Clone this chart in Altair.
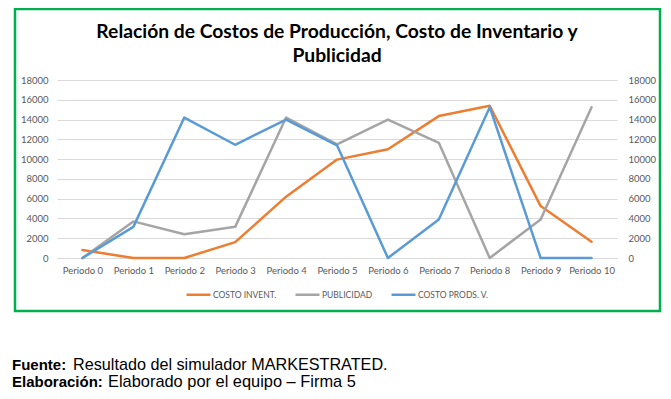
import altair as alt
import pandas as pd

periods = ["Periodo 0", "Periodo 1", "Periodo 2", "Periodo 3", "Periodo 4", "Periodo 5",
           "Periodo 6", "Periodo 7", "Periodo 8", "Periodo 9", "Periodo 10"]
costo_invent = [800, 0, 0, 1600, 6200, 9950, 11000, 14350, 15400, 5250, 1650]
publicidad = [0, 3700, 2400, 3150, 14200, 11500, 14000, 11650, 0, 3900, 15250]
costo_prods = [0, 3150, 14200, 11450, 14000, 11400, 0, 3900, 15250, 0, 0]
series_names = ["COSTO INVENT.", "PUBLICIDAD", "COSTO PRODS. V."]
series_colors = ["#ED7D31", "#A5A5A5", "#5B9BD5"]
y_ticks = list(range(0, 18001, 2000))

title_1 = "Relación de Costos de Producción, Costo de Inventario y"
title_2 = "Publicidad"
src_bold = "Fuente:"
src_text = "Resultado del simulador MARKESTRATED."
elab_bold = "Elaboración:"
elab_text = "Elaborado por el equipo – Firma 5"

rows = []
for name, vals in zip(series_names, [costo_invent, publicidad, costo_prods]):
    for p, v in zip(periods, vals):
        rows.append({"periodo": p, "valor": v, "serie": name})
df = pd.DataFrame(rows)

FONT = "Lato"
GRAY = "#595959"

x_enc = alt.X("periodo:N", sort=periods,
              scale=alt.Scale(type="point", padding=0.5),
              axis=alt.Axis(title=None, labelAngle=0, ticks=False, domain=True,
                            domainColor="#D9D9D9", domainWidth=1,
                            labelFont=FONT, labelFontSize=9.5, labelColor=GRAY,
                            labelPadding=7, grid=False))

lines = alt.Chart(df).mark_line(strokeWidth=2.5, strokeJoin="round", strokeCap="round").encode(
    x=x_enc,
    y=alt.Y("valor:Q", scale=alt.Scale(domain=[0, 18000], nice=False),
            axis=alt.Axis(title=None, values=y_ticks, ticks=False, domain=False, format="d",
                          labelFont=FONT, labelFontSize=9.5, labelColor=GRAY,
                          labelPadding=9, grid=True, gridColor="#D9D9D9", gridWidth=1)),
    color=alt.Color("serie:N",
                    scale=alt.Scale(domain=series_names, range=series_colors),
                    legend=alt.Legend(orient="none", legendX=128, legendY=201,
                                      direction="horizontal", title=None,
                                      symbolType="stroke", symbolStrokeWidth=2.5,
                                      symbolSize=576, labelFont=FONT, labelFontSize=8.5,
                                      labelColor=GRAY, labelOffset=1, columnPadding=13)),
    detail="serie:N",
)

right_axis = alt.Chart(df).mark_line(opacity=0).encode(
    x=x_enc,
    y=alt.Y("valor:Q", scale=alt.Scale(domain=[0, 18000], nice=False),
            axis=alt.Axis(title=None, orient="right", values=y_ticks, ticks=False, domain=False,
                          format="d", labelFont=FONT, labelFontSize=9.5, labelColor=GRAY,
                          labelPadding=11, grid=False)),
    detail="serie:N",
)

one = pd.DataFrame({"k": [0]})

border = alt.Chart(one).mark_rect(fill=None, stroke="#00B050", strokeWidth=2.5).encode(
    x=alt.value(-42), x2=alt.value(603), y=alt.value(-71), y2=alt.value(231))

t1 = alt.Chart(one).mark_text(font=FONT, fontSize=19.3, fontWeight="bold", color="black",
                              align="center", baseline="alphabetic").encode(
    x=alt.value(280), y=alt.value(-42), text=alt.value(title_1))
t2 = alt.Chart(one).mark_text(font=FONT, fontSize=19.3, fontWeight="bold", color="black",
                              align="center", baseline="alphabetic").encode(
    x=alt.value(280), y=alt.value(-18), text=alt.value(title_2))

FOOT = "Liberation Sans"
f1b = alt.Chart(one).mark_text(font=FOOT, fontSize=15, fontWeight="bold", color="black",
                               align="left", baseline="alphabetic").encode(
    x=alt.value(-45), y=alt.value(290), text=alt.value(src_bold))
f1n = alt.Chart(one).mark_text(font=FOOT, fontSize=16.2, color="black",
                               align="left", baseline="alphabetic").encode(
    x=alt.value(16), y=alt.value(290), text=alt.value(src_text))
f2b = alt.Chart(one).mark_text(font=FOOT, fontSize=15, fontWeight="bold", color="black",
                               align="left", baseline="alphabetic").encode(
    x=alt.value(-45), y=alt.value(307), text=alt.value(elab_bold))
f2n = alt.Chart(one).mark_text(font=FOOT, fontSize=16.4, color="black",
                               align="left", baseline="alphabetic").encode(
    x=alt.value(51), y=alt.value(307), text=alt.value(elab_text))

chart = alt.layer(lines, right_axis, border, t1, t2, f1b, f1n, f2b, f2n).resolve_scale(
    y="independent"
).properties(
    width=560, height=178,
    autosize=alt.AutoSizeParams(type="none"),
    padding={"left": 49, "top": 72, "right": 45, "bottom": 133},
    background="white",
).configure_view(stroke=None)

chart.save("out.html", embed_options={"renderer": "svg", "actions": False})
